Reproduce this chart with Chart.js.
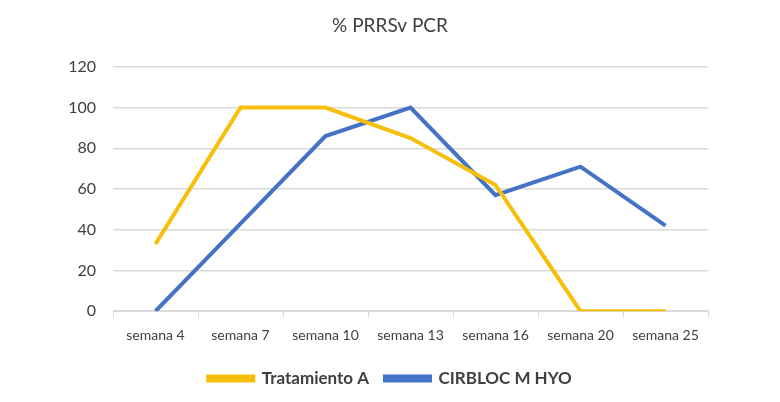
<!DOCTYPE html>
<html>
<head>
<meta charset="utf-8">
<script src="https://cdn.jsdelivr.net/npm/chart.js@4"></script>
<style>
  html, body { margin: 0; padding: 0; background: #fff; }
  #wrap { width: 780px; height: 402px; }
</style>
</head>
<body>
<div id="wrap"><canvas id="chart"></canvas></div>
<script>
const labels = ['semana 4', 'semana 7', 'semana 10', 'semana 13', 'semana 16', 'semana 20', 'semana 25'];
const tratamientoA = [33, 100, 100, 85, 62, 0, 0];
const cirbloc = [0, 43, 86, 100, 57, 71, 42];
const yTicks = [0, 20, 40, 60, 80, 100, 120];

const textColor = '#404040';
const gridColor = '#d9d9d9';

const config = {
  type: 'line',
  data: {
    labels: labels,
    datasets: [
      {
        label: 'Tratamiento A',
        data: tratamientoA,
        borderColor: '#f5bf0a',
        backgroundColor: '#f5bf0a',
        borderWidth: 4,
        pointRadius: 0,
        tension: 0
      },
      {
        label: 'CIRBLOC M HYO',
        data: cirbloc,
        borderColor: '#4472c4',
        backgroundColor: '#4472c4',
        borderWidth: 4,
        pointRadius: 0,
        tension: 0
      }
    ]
  },
  options: {
    responsive: true,
    maintainAspectRatio: false,
    animation: false,
    layout: { padding: { left: 0, right: 0, top: 10, bottom: 5 } },
    plugins: {
      title: {
        display: true,
        text: '% PRRSv PCR',
        color: textColor,
        font: { family: 'Lato', size: 19, weight: 'normal' },
        padding: { top: 4, bottom: 30 }
      },
      legend: {
        position: 'bottom',
        labels: {
          color: textColor,
          font: { family: 'Lato', size: 17, weight: 'bold' },
          boxWidth: 45,
          boxHeight: 4,
          padding: 16
        }
      },
      tooltip: { enabled: false }
    },
    scales: {
      x: {
        offset: true,
        grid: {
          offset: true,
          drawOnChartArea: false,
          drawTicks: true,
          tickLength: 6,
          color: gridColor
        },
        border: { display: true, color: gridColor, width: 1 },
        ticks: {
          color: textColor,
          font: { family: 'Lato', size: 14 },
          maxRotation: 0,
          padding: 10
        }
      },
      y: {
        min: 0,
        max: 120,
        afterBuildTicks: scale => { scale.ticks = yTicks.map(v => ({ value: v })); },
        afterFit: scale => { scale.width = 113; },
        grid: { color: gridColor, lineWidth: 1.5, drawTicks: false },
        border: { display: false },
        ticks: {
          color: textColor,
          font: { family: 'Lato', size: 16 },
          padding: 17
        }
      },
      // empty right margin so title and legend stay centred on the page
      yRight: {
        position: 'right',
        display: true,
        grid: { display: false, drawTicks: false },
        border: { display: false },
        ticks: { display: false },
        afterFit: scale => { scale.width = 72; }
      }
    }
  }
};

new Chart(document.getElementById('chart'), config);
</script>
</body>
</html>
